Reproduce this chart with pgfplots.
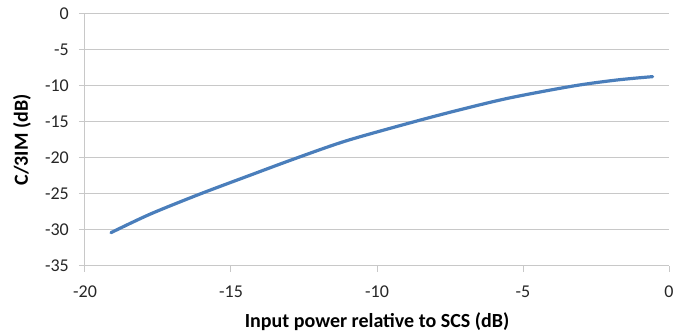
\documentclass[border=0pt]{standalone}
\usepackage{fontspec}
\setmainfont{Carlito}
\usepackage{pgfplots}
\pgfplotsset{compat=1.18}
\definecolor{lineblue}{RGB}{74,126,187}
\definecolor{gridgray}{RGB}{200,200,200}
\begin{document}
\begin{tikzpicture}
\begin{axis}[
 scale only axis, width=584pt, height=252pt,
 xmin=-20, xmax=0, ymin=-35, ymax=0,
 xtick={-20,-15,...,0}, ytick={-35,-30,...,0},
 axis x line*=bottom, axis y line*=left,
 ymajorgrids, grid style={gridgray, line width=1pt},
 axis line style={gridgray, line width=1pt, -},
 tick style={gridgray, line width=1pt},
 tick align=outside, major tick length=6pt,
 /pgf/number format/assume math mode=true,
 ticklabel style={font=\fontsize{18}{21}\selectfont, text=black!85},
 yticklabel style={anchor=east, xshift=-10pt, inner sep=0pt},
 xticklabel style={anchor=center, yshift=-20pt, inner sep=0pt},
 label style={font=\bfseries\fontsize{20}{23}\selectfont},
 xlabel={Input power relative to SCS (dB)},
 ylabel={C/3IM (dB)},
 xlabel style={at={(axis description cs:0.5,-0.222)}, anchor=center},
 ylabel style={at={(axis description cs:-0.108,0.5)}, anchor=center},
]
\addplot[lineblue, line width=3.2pt, smooth, line cap=round] coordinates {
(-19.11,-30.37) (-17.77,-27.8) (-16.06,-25.0) (-14.35,-22.4) (-12.75,-20.0)
(-11.04,-17.6) (-8.76,-15.0) (-7.16,-13.3) (-5.45,-11.65) (-3.28,-10.0)
(-1.79,-9.17) (-0.56,-8.7)
};
\end{axis}
\pgfresetboundingbox
\path[use as bounding box] ([shift={(-85pt,-67pt)}]current axis.south west) rectangle ([shift={(17pt,14pt)}]current axis.north east);
\end{tikzpicture}
\end{document}
